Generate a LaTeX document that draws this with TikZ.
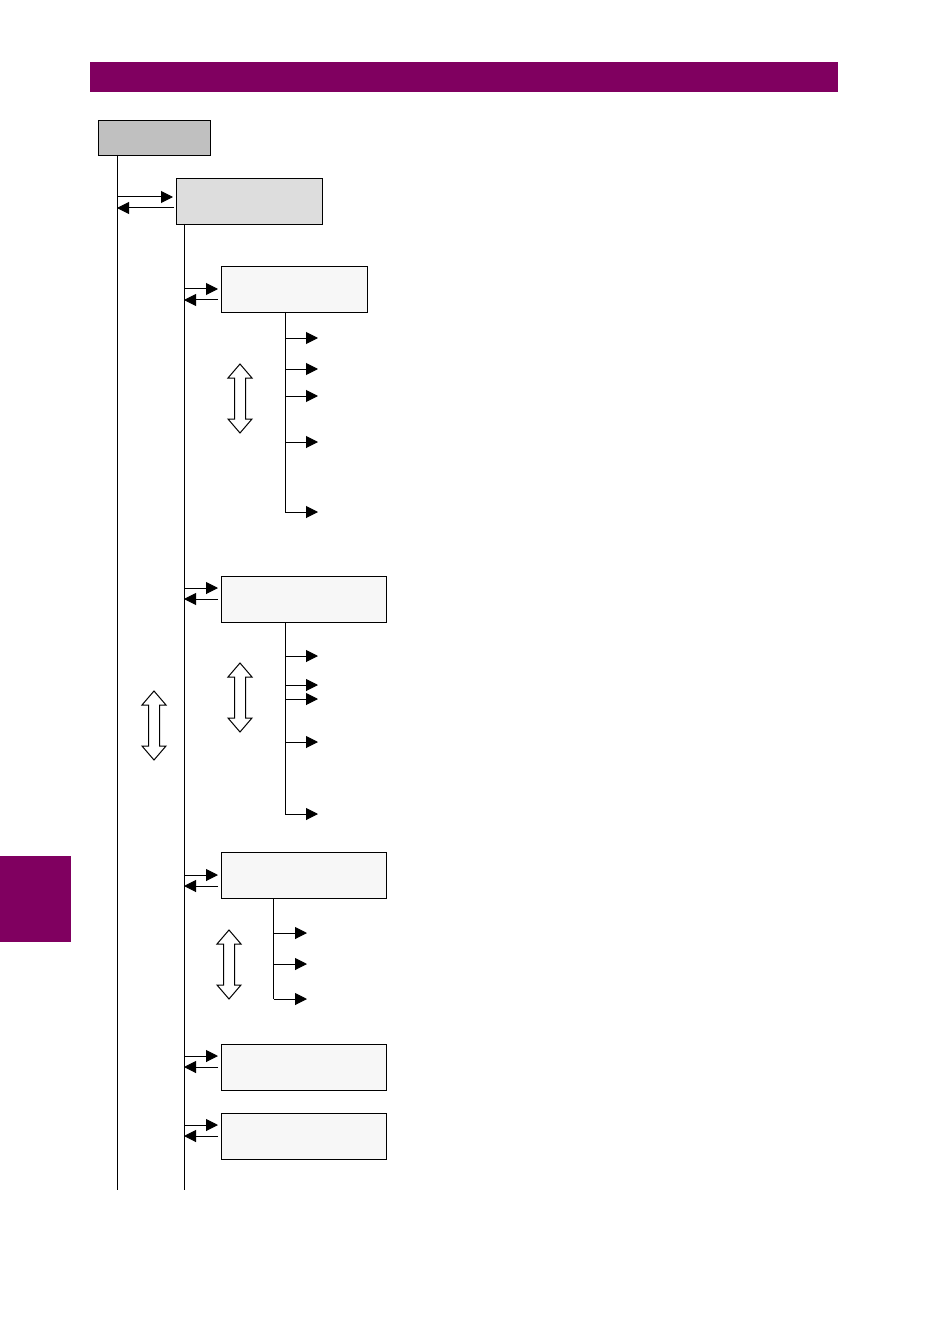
\documentclass[tikz,border=0pt]{standalone}
\usetikzlibrary{arrows.meta}
\definecolor{brand}{RGB}{128,0,96}
\definecolor{boxA}{RGB}{192,192,192}
\definecolor{boxB}{RGB}{221,221,221}
\definecolor{boxC}{RGB}{247,247,247}
\tikzset{
  ln/.style={line width=0.75pt},
  arr/.style={ln,-{Triangle[length=9pt,width=9pt]}},
  box/.style={draw,ln,anchor=north west,inner sep=0pt,minimum height=34.5pt},
  hollow/.style={draw,line width=0.75pt,fill=white,line join=miter}
}
\newcommand\vdblarrow[3]{%
  \draw[hollow] (#1,#2) -- (#1+12,#2+14) -- (#1+5.5,#2+14) -- (#1+5.5,#3-14)
    -- (#1+12,#3-14) -- (#1,#3) -- (#1-12,#3-14) -- (#1-5.5,#3-14)
    -- (#1-5.5,#2+14) -- (#1-12,#2+14) -- cycle;}
\begin{document}
\begin{tikzpicture}[x=0.75pt,y=-0.75pt]
\useasboundingbox (0,0) rectangle (950,1344);
% page decorations
\fill[brand] (90,62) rectangle (838,92);
\fill[brand] (0,856) rectangle (71,942);
% boxes
\node[box,fill=boxA,minimum width=84pt,minimum height=26.25pt] (a) at (98,120) {};
\node[box,fill=boxB,minimum width=109.5pt] (b) at (176,178) {};
\node[box,fill=boxC,minimum width=109.5pt] (c1) at (221,266) {};
\node[box,fill=boxC,minimum width=123.75pt] (c2) at (221,576) {};
\node[box,fill=boxC,minimum width=123.75pt] (c3) at (221,852) {};
\node[box,fill=boxC,minimum width=123.75pt] (c4) at (221,1044) {};
\node[box,fill=boxC,minimum width=123.75pt] (c5) at (221,1113) {};
% main vertical lines
\coordinate (l1top) at (117,155);
\coordinate (l1bot) at (117,1190);
\coordinate (l2top) at (184,224);
\coordinate (l2bot) at (184,1190);
\draw[ln] (l1top) -- (l1bot);
\draw[ln] (l2top) -- (l2bot);
% line1 <-> box b
\draw[arr] (117,197) -- (173,197);
\draw[arr] (174,208) -- (117,208);
% line2 <-> boxes c
\foreach \n/\y in {c1/289,c2/588,c3/875,c4/1056,c5/1125}{
  \draw[arr] (184,\y) -- (218,\y);
  \draw[arr] (218,\y+11) -- (184,\y+11);
}
% branches of c1
\draw[ln] (285,312) -- (285,512);
\foreach \y in {338,369,396,442,512}{\draw[arr] (285,\y) -- (318,\y);}
% branches of c2
\draw[ln] (285,622) -- (285,814);
\foreach \y in {656,685,699,742,814}{\draw[arr] (285,\y) -- (318,\y);}
% branches of c3
\draw[ln] (273.5,898) -- (273.5,999);
\foreach \y in {933,964,999}{\draw[arr] (273.5,\y) -- (307,\y);}
% hollow double arrows
\vdblarrow{240}{364}{433}
\vdblarrow{240}{663}{732}
\vdblarrow{154}{691}{760}
\vdblarrow{229}{930}{999}
\end{tikzpicture}
\end{document}
